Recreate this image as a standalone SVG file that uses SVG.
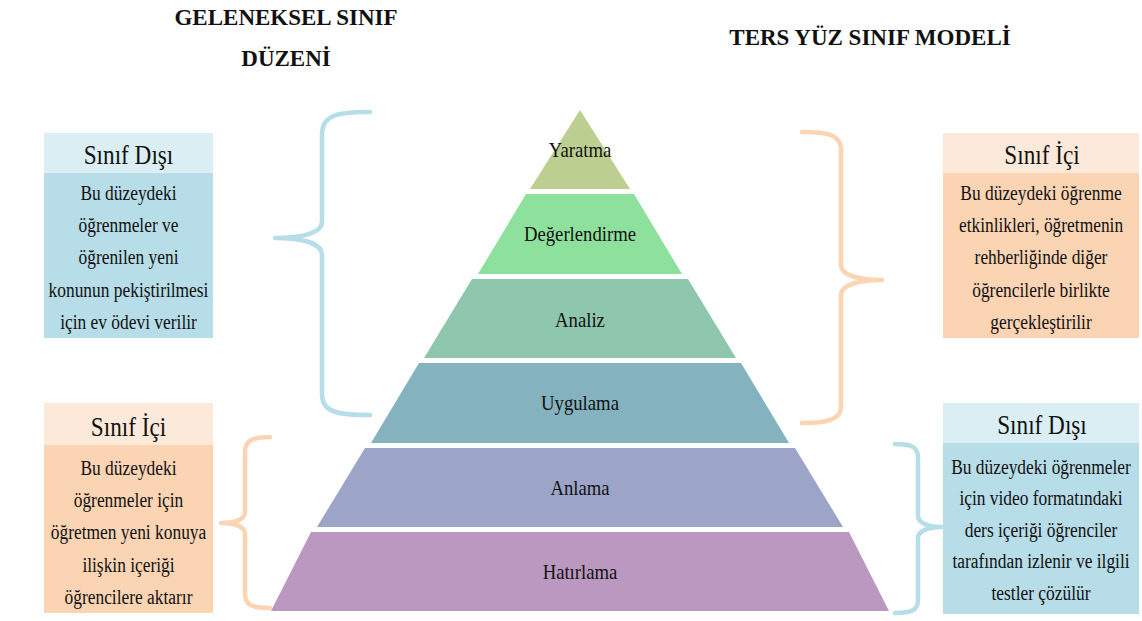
<svg xmlns="http://www.w3.org/2000/svg" width="1142" height="621" viewBox="0 0 1142 621">
  <style>
    .title { font-family: "Liberation Serif", "Times New Roman", serif; font-weight: bold; font-size: 23px; fill: #111; text-anchor: middle; }
    .hdr { font-family: "Liberation Serif", "Times New Roman", serif; font-size: 27px; fill: #111; text-anchor: middle; }
    .body { font-family: "Liberation Serif", "Times New Roman", serif; font-size: 20px; fill: #111; text-anchor: middle; }
    .lvl { font-family: "Liberation Serif", "Times New Roman", serif; font-size: 22px; fill: #111; text-anchor: middle; }
    .blueHead { fill: #daeef3; }
    .blueBody { fill: #b7dde8; }
    .peachHead { fill: #fde9d9; }
    .peachBody { fill: #fbd4b4; }
    .brace { fill: none; stroke-width: 4.5; stroke-linecap: round; stroke-linejoin: round; }
    .braceBlue { stroke: #b7dde8; }
    .bracePeach { stroke: #fbd4b4; }
  </style>

  <rect width="1142" height="621" fill="#ffffff"/>

  <!-- column headings -->
  <g id="heading-traditional">
    <text class="title" x="286" y="25">GELENEKSEL SINIF</text>
    <text class="title" x="286" y="66">DÜZENİ</text>
  </g>
  <g id="heading-flipped">
    <text class="title" x="870" y="45">TERS YÜZ SINIF MODELİ</text>
  </g>

  <!-- Bloom pyramid levels -->
  <g id="level-yaratma">
    <polygon points="580,110 630,189 530,189" fill="#bccf91"/>
    <text class="lvl" transform="translate(580,157) scale(0.85,1)">Yaratma</text>
  </g>
  <g id="level-degerlendirme">
    <polygon points="526,194 634,194 682,274 478,274" fill="#8ee19c"/>
    <text class="lvl" transform="translate(580,241) scale(0.85,1)">Değerlendirme</text>
  </g>
  <g id="level-analiz">
    <polygon points="472,279 688,279 736,358 424,358" fill="#8ec7ad"/>
    <text class="lvl" transform="translate(580,327) scale(0.85,1)">Analiz</text>
  </g>
  <g id="level-uygulama">
    <polygon points="419,363 741,363 789,443 371,443" fill="#84b3bf"/>
    <text class="lvl" transform="translate(580,410) scale(0.85,1)">Uygulama</text>
  </g>
  <g id="level-anlama">
    <polygon points="365,448 795,448 843,527 317,527" fill="#9ca5c8"/>
    <text class="lvl" transform="translate(580,495) scale(0.85,1)">Anlama</text>
  </g>
  <g id="level-hatirlama">
    <polygon points="311,532 849,532 889,611 271,611" fill="#bb98c0"/>
    <text class="lvl" transform="translate(580,579) scale(0.85,1)">Hatırlama</text>
  </g>

  <!-- curly braces grouping the levels -->
  <g id="connectors">
    <path class="brace braceBlue" d="M370,112 C340,112 322,114 322,134 L322,222 C322,233 302,238 275,238 C302,238 322,243 322,255 L322,395 C322,413 340,415 370,415"/>
    <path class="brace bracePeach" d="M270,437 C252,437 245,441 245,452 L245,512 C245,519 236,523 221,523 C236,523 245,527 245,534 L245,594 C245,605 252,608 270,608"/>
    <path class="brace bracePeach" d="M802,132 C826,132 841,134 841,150 L841,265 C841,275 858,280 882,280 C858,280 841,285 841,295 L841,407 C841,420 826,423 802,423"/>
    <path class="brace braceBlue" d="M895,444 C912,444 918,447 918,458 L918,516 C918,523 928,527 942,527 C928,527 918,531 918,538 L918,600 C918,610 912,613 895,613"/>
  </g>

  <!-- left, upper: outside class -->
  <g id="box-trad-outside">
    <rect class="blueHead" x="44" y="133" width="169" height="40"/>
    <rect class="blueBody" x="44" y="173" width="169" height="165"/>
    <text class="hdr" transform="translate(128.5,164) scale(0.86,1)">Sınıf Dışı</text>
    <g transform="translate(128.5,0) scale(0.87,1)">
      <text class="body" x="0" y="200">Bu düzeydeki</text>
      <text class="body" x="0" y="232">öğrenmeler ve</text>
      <text class="body" x="0" y="264.5">öğrenilen yeni</text>
      <text class="body" x="0" y="297">konunun pekiştirilmesi</text>
      <text class="body" x="0" y="329">için ev ödevi verilir</text>
    </g>
  </g>

  <!-- left, lower: in class -->
  <g id="box-trad-inside">
    <rect class="peachHead" x="44" y="403" width="169" height="42"/>
    <rect class="peachBody" x="44" y="445" width="169" height="168"/>
    <text class="hdr" transform="translate(128.5,436) scale(0.86,1)">Sınıf İçi</text>
    <g transform="translate(128.5,0) scale(0.87,1)">
      <text class="body" x="0" y="475">Bu düzeydeki</text>
      <text class="body" x="0" y="507">öğrenmeler için</text>
      <text class="body" x="0" y="539.5">öğretmen yeni konuya</text>
      <text class="body" x="0" y="572">ilişkin içeriği</text>
      <text class="body" x="0" y="604">öğrencilere aktarır</text>
    </g>
  </g>

  <!-- right, upper: in class -->
  <g id="box-flip-inside">
    <rect class="peachHead" x="943" y="133" width="196" height="40"/>
    <rect class="peachBody" x="943" y="173" width="196" height="165"/>
    <text class="hdr" transform="translate(1042,164) scale(0.86,1)">Sınıf İçi</text>
    <g transform="translate(1041,0) scale(0.87,1)">
      <text class="body" x="0" y="200">Bu düzeydeki öğrenme</text>
      <text class="body" x="0" y="232">etkinlikleri, öğretmenin</text>
      <text class="body" x="0" y="264.5">rehberliğinde diğer</text>
      <text class="body" x="0" y="297">öğrencilerle birlikte</text>
      <text class="body" x="0" y="329">gerçekleştirilir</text>
    </g>
  </g>

  <!-- right, lower: outside class -->
  <g id="box-flip-outside">
    <rect class="blueHead" x="943" y="403" width="196" height="40"/>
    <rect class="blueBody" x="943" y="443" width="196" height="171"/>
    <text class="hdr" transform="translate(1042,434) scale(0.86,1)">Sınıf Dışı</text>
    <g transform="translate(1041,0) scale(0.87,1)">
      <text class="body" x="0" y="474">Bu düzeydeki öğrenmeler</text>
      <text class="body" x="0" y="505.5">için video formatındaki</text>
      <text class="body" x="0" y="537">ders içeriği öğrenciler</text>
      <text class="body" x="0" y="568.5">tarafından izlenir ve ilgili</text>
      <text class="body" x="0" y="600">testler çözülür</text>
    </g>
  </g>
</svg>
